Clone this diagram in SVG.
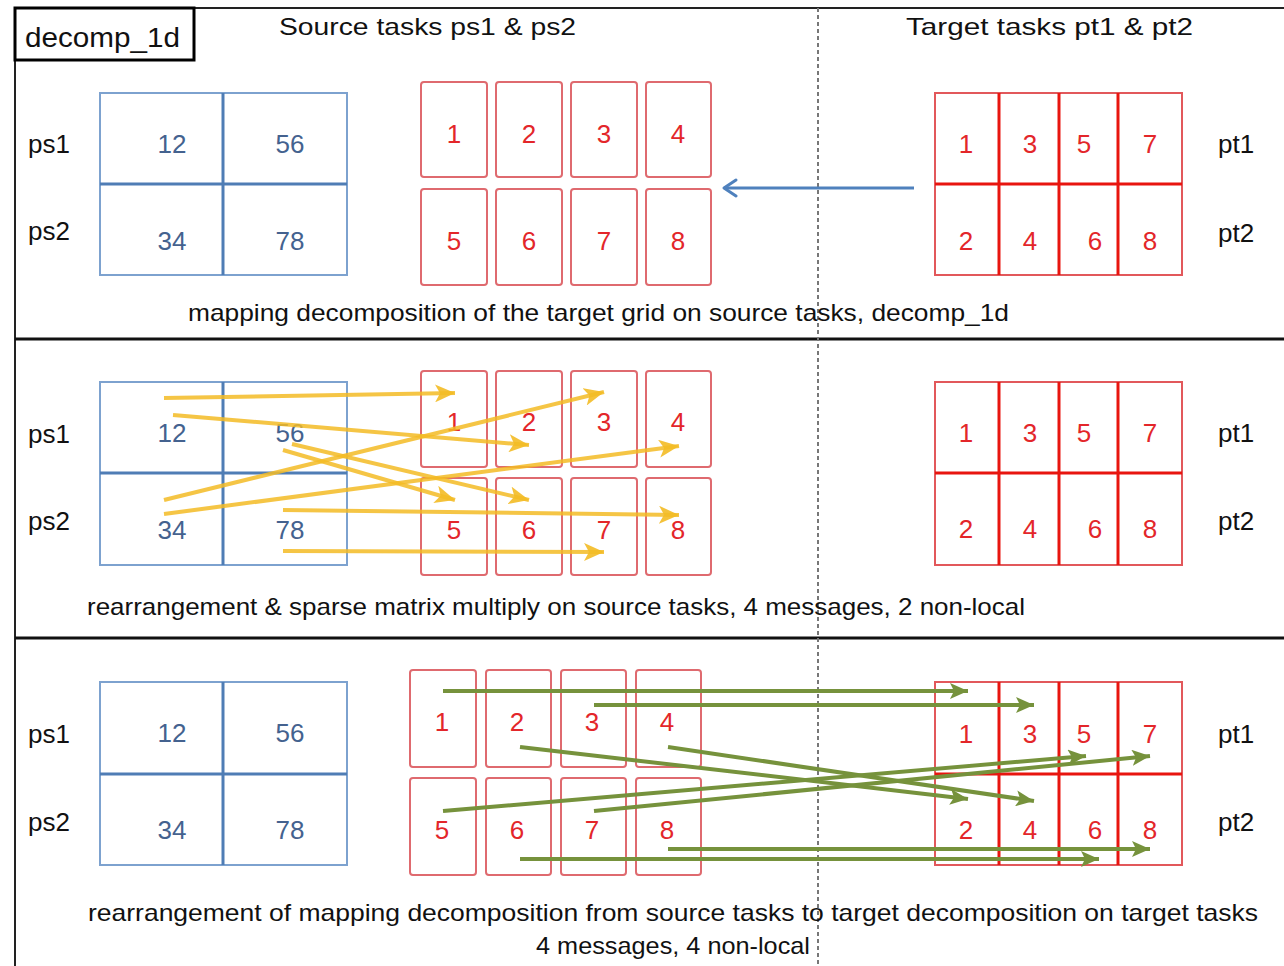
<svg xmlns="http://www.w3.org/2000/svg" width="1284" height="966" viewBox="0 0 1284 966">
<style>
text{font-family:"Liberation Sans",Arial,sans-serif}
.lbl{font-size:26px;fill:#111}
.cap{font-size:24px;fill:#111}
.bn{font-size:26px;fill:#44628f;text-anchor:middle}
.rn{font-size:26px;fill:#e3262a;text-anchor:middle}
.bgo{fill:#fff;stroke:#7da2cf;stroke-width:2}
.bgi{stroke:#4f7db5;stroke-width:3}
.rb{fill:#fff;stroke:#df6a6f;stroke-width:2}
.tgo{fill:#fff;stroke:#e2585b;stroke-width:2}
.tgi{stroke:#e8150f;stroke-width:3}
.ya{stroke:#f3bb25;stroke-width:4;stroke-opacity:0.85;fill:none;marker-end:url(#ay)}
.ga{stroke:#76923c;stroke-width:4;fill:none;marker-end:url(#ag)}
</style>
<defs>
<marker id="ay" markerUnits="userSpaceOnUse" markerWidth="22" markerHeight="18" refX="20" refY="9" orient="auto">
<path d="M0,0 L20,9 L0,18 L5,9 z" fill="#f3bb25" fill-opacity="0.9"/>
</marker>
<marker id="ag" markerUnits="userSpaceOnUse" markerWidth="20" markerHeight="16" refX="18" refY="8" orient="auto">
<path d="M0,0 L18,8 L0,16 L4,8 z" fill="#76923c"/>
</marker>
<marker id="ab" markerUnits="userSpaceOnUse" markerWidth="20" markerHeight="20" refX="15" refY="10" orient="auto">
<path d="M3,2 L15,10 L3,18" fill="none" stroke="#4f81bd" stroke-width="3" stroke-linecap="round" stroke-linejoin="round"/>
</marker>
</defs>
<rect width="1284" height="966" fill="#fff"/>

<g id="frame">
<line x1="15" y1="8" x2="1284" y2="8" stroke="#222" stroke-width="2"/>
<line x1="15" y1="8" x2="15" y2="966" stroke="#222" stroke-width="2"/>
<line x1="15" y1="339" x2="1284" y2="339" stroke="#111" stroke-width="3"/>
<line x1="15" y1="638" x2="1284" y2="638" stroke="#111" stroke-width="3"/>
<line x1="818" y1="8" x2="818" y2="966" stroke="#777" stroke-width="2" stroke-dasharray="4,3"/>
</g>

<g id="title">
<rect x="15" y="8" width="179" height="52" fill="#fff" stroke="#000" stroke-width="3"/>
<text x="25" y="47" font-size="27" fill="#111" textLength="155" lengthAdjust="spacingAndGlyphs">decomp_1d</text>
<text x="279" y="35" class="cap" font-size="25" textLength="297" lengthAdjust="spacingAndGlyphs">Source tasks ps1 &amp; ps2</text>
<text x="906" y="35" class="cap" font-size="25" textLength="287" lengthAdjust="spacingAndGlyphs">Target tasks pt1 &amp; pt2</text>
</g>

<!-- Panel 1 -->
<g id="p1-source">
<text x="28" y="153" class="lbl">ps1</text>
<text x="28" y="240" class="lbl">ps2</text>
<rect x="100" y="93" width="247" height="182" class="bgo"/>
<line x1="223" y1="93" x2="223" y2="275" class="bgi"/>
<line x1="100" y1="184" x2="347" y2="184" class="bgi"/>
<text x="172" y="153" class="bn">12</text>
<text x="290" y="153" class="bn">56</text>
<text x="172" y="250" class="bn">34</text>
<text x="290" y="250" class="bn">78</text>
</g>
<g id="p1-tasks">
<rect x="421" y="82" width="66" height="95" rx="3" class="rb"/>
<rect x="496" y="82" width="66" height="95" rx="3" class="rb"/>
<rect x="571" y="82" width="66" height="95" rx="3" class="rb"/>
<rect x="646" y="82" width="65" height="95" rx="3" class="rb"/>
<rect x="421" y="189" width="66" height="96" rx="3" class="rb"/>
<rect x="496" y="189" width="66" height="96" rx="3" class="rb"/>
<rect x="571" y="189" width="66" height="96" rx="3" class="rb"/>
<rect x="646" y="189" width="65" height="96" rx="3" class="rb"/>
<text x="454" y="143" class="rn">1</text>
<text x="529" y="143" class="rn">2</text>
<text x="604" y="143" class="rn">3</text>
<text x="678" y="143" class="rn">4</text>
<text x="454" y="250" class="rn">5</text>
<text x="529" y="250" class="rn">6</text>
<text x="604" y="250" class="rn">7</text>
<text x="678" y="250" class="rn">8</text>
</g>
<g id="p1-target">
<rect x="935" y="93" width="247" height="182" class="tgo"/>
<line x1="935" y1="184" x2="1182" y2="184" class="tgi"/>
<line x1="999" y1="93" x2="999" y2="275" class="tgi"/>
<line x1="1059" y1="93" x2="1059" y2="275" class="tgi"/>
<line x1="1118" y1="93" x2="1118" y2="275" class="tgi"/>
<text x="966" y="153" class="rn">1</text>
<text x="1030" y="153" class="rn">3</text>
<text x="1084" y="153" class="rn">5</text>
<text x="1150" y="153" class="rn">7</text>
<text x="966" y="250" class="rn">2</text>
<text x="1030" y="250" class="rn">4</text>
<text x="1095" y="250" class="rn">6</text>
<text x="1150" y="250" class="rn">8</text>
<text x="1218" y="153" class="lbl">pt1</text>
<text x="1218" y="242" class="lbl">pt2</text>
</g>
<text x="188" y="321" class="cap" textLength="821" lengthAdjust="spacingAndGlyphs">mapping decomposition of the target grid on source tasks, decomp_1d</text>

<!-- Panel 2 -->
<g id="p2-source">
<text x="28" y="443" class="lbl">ps1</text>
<text x="28" y="530" class="lbl">ps2</text>
<rect x="100" y="382" width="247" height="183" class="bgo"/>
<line x1="223" y1="382" x2="223" y2="565" class="bgi"/>
<line x1="100" y1="473" x2="347" y2="473" class="bgi"/>
<text x="172" y="442" class="bn">12</text>
<text x="290" y="442" class="bn">56</text>
<text x="172" y="539" class="bn">34</text>
<text x="290" y="539" class="bn">78</text>
</g>
<g id="p2-tasks">
<rect x="421" y="371" width="66" height="96" rx="3" class="rb"/>
<rect x="496" y="371" width="66" height="96" rx="3" class="rb"/>
<rect x="571" y="371" width="66" height="96" rx="3" class="rb"/>
<rect x="646" y="371" width="65" height="96" rx="3" class="rb"/>
<rect x="421" y="478" width="66" height="97" rx="3" class="rb"/>
<rect x="496" y="478" width="66" height="97" rx="3" class="rb"/>
<rect x="571" y="478" width="66" height="97" rx="3" class="rb"/>
<rect x="646" y="478" width="65" height="97" rx="3" class="rb"/>
<text x="454" y="431" class="rn">1</text>
<text x="529" y="431" class="rn">2</text>
<text x="604" y="431" class="rn">3</text>
<text x="678" y="431" class="rn">4</text>
<text x="454" y="539" class="rn">5</text>
<text x="529" y="539" class="rn">6</text>
<text x="604" y="539" class="rn">7</text>
<text x="678" y="539" class="rn">8</text>
</g>
<g id="p2-target">
<rect x="935" y="382" width="247" height="183" class="tgo"/>
<line x1="935" y1="473" x2="1182" y2="473" class="tgi"/>
<line x1="999" y1="382" x2="999" y2="565" class="tgi"/>
<line x1="1059" y1="382" x2="1059" y2="565" class="tgi"/>
<line x1="1118" y1="382" x2="1118" y2="565" class="tgi"/>
<text x="966" y="442" class="rn">1</text>
<text x="1030" y="442" class="rn">3</text>
<text x="1084" y="442" class="rn">5</text>
<text x="1150" y="442" class="rn">7</text>
<text x="966" y="538" class="rn">2</text>
<text x="1030" y="538" class="rn">4</text>
<text x="1095" y="538" class="rn">6</text>
<text x="1150" y="538" class="rn">8</text>
<text x="1218" y="442" class="lbl">pt1</text>
<text x="1218" y="530" class="lbl">pt2</text>
</g>
<text x="87" y="615" class="cap" textLength="938" lengthAdjust="spacingAndGlyphs">rearrangement &amp; sparse matrix multiply on source tasks, 4 messages, 2 non-local</text>

<!-- Panel 3 -->
<g id="p3-source">
<text x="28" y="743" class="lbl">ps1</text>
<text x="28" y="831" class="lbl">ps2</text>
<rect x="100" y="682" width="247" height="183" class="bgo"/>
<line x1="223" y1="682" x2="223" y2="865" class="bgi"/>
<line x1="100" y1="774" x2="347" y2="774" class="bgi"/>
<text x="172" y="742" class="bn">12</text>
<text x="290" y="742" class="bn">56</text>
<text x="172" y="839" class="bn">34</text>
<text x="290" y="839" class="bn">78</text>
</g>
<g id="p3-tasks">
<rect x="410" y="670" width="66" height="97" rx="3" class="rb"/>
<rect x="486" y="670" width="65" height="97" rx="3" class="rb"/>
<rect x="561" y="670" width="65" height="97" rx="3" class="rb"/>
<rect x="636" y="670" width="65" height="97" rx="3" class="rb"/>
<rect x="410" y="778" width="66" height="97" rx="3" class="rb"/>
<rect x="486" y="778" width="65" height="97" rx="3" class="rb"/>
<rect x="561" y="778" width="65" height="97" rx="3" class="rb"/>
<rect x="636" y="778" width="65" height="97" rx="3" class="rb"/>
<text x="442" y="731" class="rn">1</text>
<text x="517" y="731" class="rn">2</text>
<text x="592" y="731" class="rn">3</text>
<text x="667" y="731" class="rn">4</text>
<text x="442" y="839" class="rn">5</text>
<text x="517" y="839" class="rn">6</text>
<text x="592" y="839" class="rn">7</text>
<text x="667" y="839" class="rn">8</text>
</g>
<g id="p3-target">
<rect x="935" y="682" width="247" height="183" class="tgo"/>
<line x1="935" y1="774" x2="1182" y2="774" class="tgi"/>
<line x1="999" y1="682" x2="999" y2="865" class="tgi"/>
<line x1="1059" y1="682" x2="1059" y2="865" class="tgi"/>
<line x1="1118" y1="682" x2="1118" y2="865" class="tgi"/>
<text x="966" y="743" class="rn">1</text>
<text x="1030" y="743" class="rn">3</text>
<text x="1084" y="743" class="rn">5</text>
<text x="1150" y="743" class="rn">7</text>
<text x="966" y="839" class="rn">2</text>
<text x="1030" y="839" class="rn">4</text>
<text x="1095" y="839" class="rn">6</text>
<text x="1150" y="839" class="rn">8</text>
<text x="1218" y="743" class="lbl">pt1</text>
<text x="1218" y="831" class="lbl">pt2</text>
</g>
<text x="88" y="921" class="cap" textLength="1170" lengthAdjust="spacingAndGlyphs">rearrangement of mapping decomposition from source tasks to target decomposition on target tasks</text>
<text x="536" y="954" class="cap" textLength="274" lengthAdjust="spacingAndGlyphs">4 messages, 4 non-local</text>

<g id="connectors">
<line x1="914" y1="188" x2="724" y2="188" stroke="#4f81bd" stroke-width="3" marker-end="url(#ab)"/>
<line x1="164" y1="398" x2="455" y2="393" class="ya"/>
<line x1="173" y1="415" x2="529" y2="445" class="ya"/>
<line x1="164" y1="500" x2="604" y2="392" class="ya"/>
<line x1="164" y1="514" x2="679" y2="446" class="ya"/>
<line x1="283" y1="450" x2="455" y2="500" class="ya"/>
<line x1="292" y1="444" x2="529" y2="500" class="ya"/>
<line x1="283" y1="510" x2="679" y2="515" class="ya"/>
<line x1="283" y1="551" x2="604" y2="552" class="ya"/>
<line x1="443" y1="691" x2="968" y2="691" class="ga"/>
<line x1="594" y1="705" x2="1034" y2="705" class="ga"/>
<line x1="520" y1="747" x2="968" y2="799" class="ga"/>
<line x1="668" y1="747" x2="1034" y2="801" class="ga"/>
<line x1="443" y1="811" x2="1086" y2="756" class="ga"/>
<line x1="594" y1="811" x2="1150" y2="756" class="ga"/>
<line x1="668" y1="849" x2="1150" y2="849" class="ga"/>
<line x1="520" y1="859" x2="1099" y2="859" class="ga"/>
</g>
</svg>
